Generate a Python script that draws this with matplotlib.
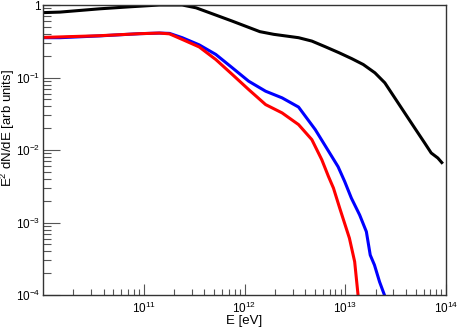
import matplotlib
matplotlib.use("Agg")
import matplotlib.pyplot as plt
import matplotlib.ticker as mticker

plt.rcParams['font.family'] = ['Liberation Sans', 'DejaVu Sans']
plt.rcParams['mathtext.fontset'] = 'custom'
plt.rcParams['mathtext.rm'] = 'Liberation Sans'
plt.rcParams['mathtext.it'] = 'Liberation Sans:italic'

# Energy [eV] and E^2 dN/dE [arb units]
black_E = [1.00e10, 1.47e10, 3.65e10, 7.23e10, 1.43e11, 2.41e11, 3.31e11, 4.46e11,
           7.52e11, 1.42e12, 1.95e12, 3.44e12, 4.66e12, 6.32e12, 8.65e12, 1.16e13,
           1.51e13, 1.97e13, 2.47e13, 3.10e13, 3.89e13, 4.89e13, 6.14e13, 7.13e13,
           8.30e13, 9.29e13]
black_y = [0.785, 0.798, 0.886, 0.944, 1.0, 1.0, 0.914, 0.785,
           0.601, 0.429, 0.394, 0.354, 0.318, 0.266, 0.220, 0.182,
           0.151, 0.116, 0.0845, 0.0524, 0.0325, 0.0201, 0.0125, 0.0091,
           0.00775, 0.00647]

blue_E = [1.00e10, 1.47e10, 3.65e10, 9.08e10, 1.43e11, 1.80e11, 2.41e11, 3.55e11,
          5.19e11, 7.57e11, 1.10e12, 1.62e12, 2.36e12, 3.44e12, 5.04e12, 7.35e12,
          8.49e12, 9.87e12, 1.15e13, 1.39e13, 1.62e13, 1.77e13, 1.95e13, 2.19e13,
          2.45e13, 2.66e13]
blue_y = [0.354, 0.354, 0.375, 0.402, 0.410, 0.406, 0.354, 0.282,
          0.208, 0.136, 0.0889, 0.0647, 0.0524, 0.0391, 0.0191, 0.00815,
          0.00588, 0.00368, 0.00217, 0.00127, 0.000748, 0.000356, 0.000259, 0.000152,
          0.0000998, 0.0000724]

red_E = [1.00e10, 3.65e10, 9.08e10, 1.43e11, 1.80e11, 2.41e11, 3.55e11, 5.19e11,
         7.57e11, 1.10e12, 1.62e12, 2.36e12, 3.44e12, 4.66e12, 5.85e12, 6.81e12,
         7.64e12, 8.81e12, 1.10e13, 1.24e13, 1.34e13, 1.38e13]
red_y = [0.357, 0.377, 0.402, 0.410, 0.400, 0.335, 0.264, 0.177,
         0.110, 0.0682, 0.0423, 0.0325, 0.0224, 0.0139, 0.00734, 0.00432,
         0.00298, 0.00158, 0.000607, 0.000288, 0.0000998, 0.0000617]

x_ticks = [1e11, 1e12, 1e13, 1e14]
x_labels = ['$10^{11}$', '$10^{12}$', '$10^{13}$', '$10^{14}$']
y_ticks = [1e-4, 1e-3, 1e-2, 1e-1, 1]
y_labels = ['$10^{-4}$', '$10^{-3}$', '$10^{-2}$', '$10^{-1}$', '1']

fig = plt.figure(figsize=(4.58, 3.31), dpi=100)
ax = fig.add_axes([43/458, 1-295/331, (446-43)/458, (295-5)/331])

for E, y, c in ((black_E, black_y, 'black'), (blue_E, blue_y, '#0000ff'), (red_E, red_y, '#ff0000')):
    ax.plot(E, y, color=c, lw=2.2, solid_joinstyle='round', solid_capstyle='butt')

ax.set_xscale('log')
ax.set_yscale('log')
ax.set_xlim(1e10, 1e14)
ax.set_ylim(1e-4, 1.0)

ax.set_xticks(x_ticks)
ax.set_xticklabels(x_labels)
ax.set_yticks(y_ticks)
ax.set_yticklabels(y_labels)
ax.xaxis.set_minor_locator(mticker.LogLocator(base=10, subs=range(2, 10), numticks=20))
ax.yaxis.set_minor_locator(mticker.LogLocator(base=10, subs=range(2, 10), numticks=20))
ax.xaxis.set_minor_formatter(mticker.NullFormatter())
ax.yaxis.set_minor_formatter(mticker.NullFormatter())

ax.tick_params(axis='x', which='major', direction='in', length=8, width=0.8, labelsize=8.5, pad=4, color='#555555')
ax.tick_params(axis='x', which='minor', direction='in', length=4, width=0.8, color='#555555')
ax.tick_params(axis='y', which='major', direction='in', length=12, width=0.8, labelsize=8.5, pad=2, color='#555555')
ax.tick_params(axis='y', which='minor', direction='in', length=6, width=0.8, color='#555555')
ax.tick_params(top=False, right=False, which='both')

for s in ax.spines.values():
    s.set_color('#333333')
    s.set_linewidth(1.0)

ax.set_xlabel('E [eV]', fontsize=9.5)
ax.xaxis.set_label_coords(0.5, -0.068)
ax.set_ylabel('E$^{2}$ dN/dE [arb units]', fontsize=9.5)
ax.yaxis.set_label_coords(-0.064, 0.576)

fig.savefig('out.png', dpi=100)
